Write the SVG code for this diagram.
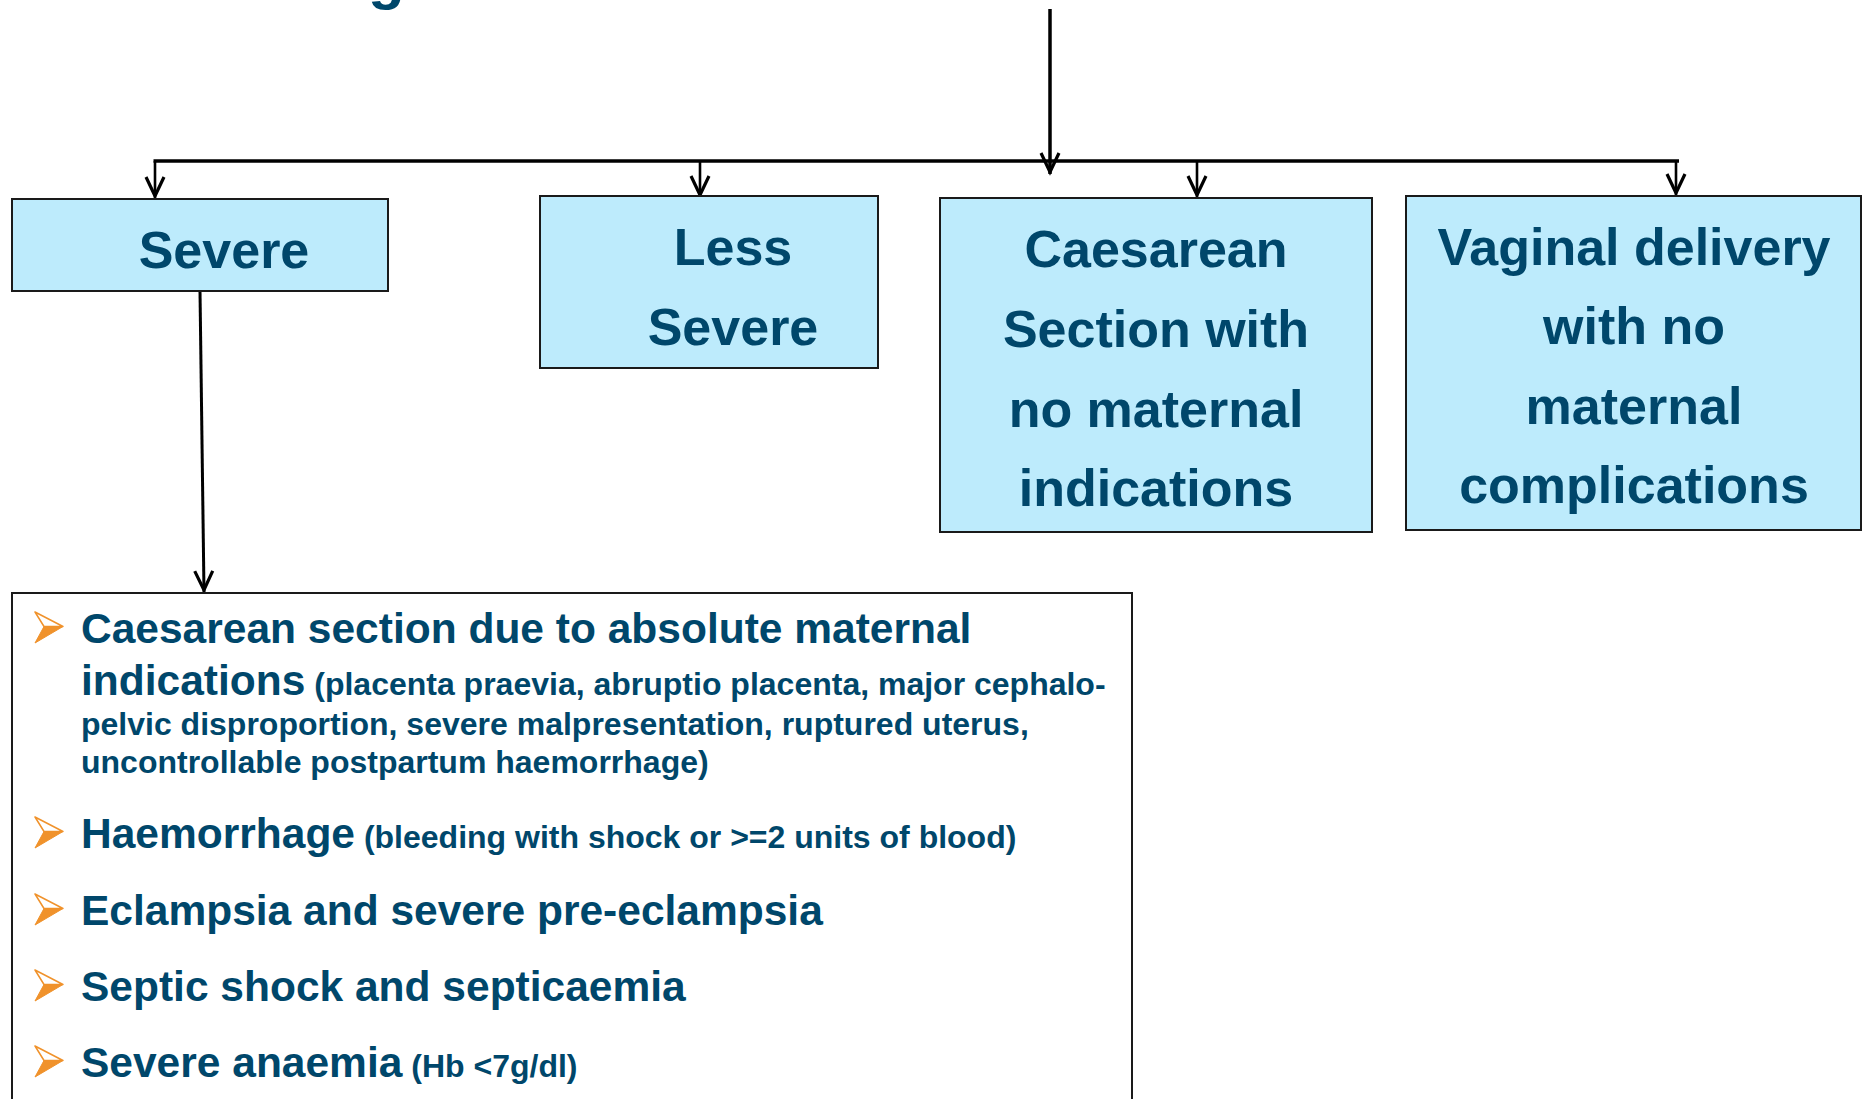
<svg xmlns="http://www.w3.org/2000/svg" width="1866" height="1099" viewBox="0 0 1866 1099">
<style>
.box{fill:#BDEBFC;stroke:#1a1a1a;stroke-width:2}
.frame{fill:#fff;stroke:#1a1a1a;stroke-width:2}
.t{font-family:"Liberation Sans",Arial,sans-serif;font-weight:bold;fill:#00476B}
.bt{font-size:52px;text-anchor:middle}
.big{font-size:42.5px}
.sm{font-size:32px}
.ln{stroke:#000;fill:none}
.bl-up{fill:#fff;stroke:#F0922B;stroke-width:1.5;stroke-linejoin:round}
.bl-dn{fill:#F0922B;stroke:#F0922B;stroke-width:1;stroke-linejoin:round}
</style>
<defs>
<marker id="arr" viewBox="-24 -12 26 24" markerWidth="26" markerHeight="24" refX="0" refY="0" orient="auto" markerUnits="userSpaceOnUse">
<path d="M-21,-9 L-2,0 L-21,9" fill="none" stroke="#000" stroke-width="3.2"/>
</marker>
<g id="bullet">
<polygon class="bl-up" points="0,0 28,14.5 9,14.5"/>
<polygon class="bl-dn" points="9,14.5 28,14.5 0,31"/>
</g>
</defs>

<text class="t" x="368" y="-2" font-size="60">g</text>

<g id="connectors">
<line class="ln" x1="1050" y1="9" x2="1050" y2="174" stroke-width="3.5" marker-end="url(#arr)"/>
<line class="ln" x1="153.5" y1="161" x2="1679" y2="161" stroke-width="3.5"/>
<line class="ln" x1="155" y1="161" x2="155" y2="198" stroke-width="2.6" marker-end="url(#arr)"/>
<line class="ln" x1="700" y1="161" x2="700" y2="197" stroke-width="2.6" marker-end="url(#arr)"/>
<line class="ln" x1="1197" y1="161" x2="1197" y2="197" stroke-width="2.6" marker-end="url(#arr)"/>
<line class="ln" x1="1676" y1="161" x2="1676" y2="195" stroke-width="2.6" marker-end="url(#arr)"/>
<line class="ln" x1="200" y1="291" x2="204" y2="592" stroke-width="3" marker-end="url(#arr)"/>
</g>

<g id="node-severe">
<rect class="box" x="12" y="199" width="376" height="92"/>
<text class="t bt" x="224" y="268">Severe</text>
</g>

<g id="node-less-severe">
<rect class="box" x="540" y="196" width="338" height="172"/>
<text class="t bt" x="733" y="265">Less</text>
<text class="t bt" x="733" y="345">Severe</text>
</g>

<g id="node-caesarean">
<rect class="box" x="940" y="198" width="432" height="334"/>
<text class="t bt" x="1156" y="267">Caesarean</text>
<text class="t bt" x="1156" y="347">Section with</text>
<text class="t bt" x="1156" y="427">no maternal</text>
<text class="t bt" x="1156" y="506">indications</text>
</g>

<g id="node-vaginal">
<rect class="box" x="1406" y="196" width="455" height="334"/>
<text class="t bt" x="1634" y="265">Vaginal delivery</text>
<text class="t bt" x="1634" y="344">with no</text>
<text class="t bt" x="1634" y="424">maternal</text>
<text class="t bt" x="1634" y="503">complications</text>
</g>

<g id="node-severe-list">
<rect class="frame" x="12" y="593" width="1120" height="520"/>
<use href="#bullet" x="35" y="612"/>
<text class="t big" x="81" y="643">Caesarean section due to absolute maternal</text>
<text class="t big" x="81" y="695">indications<tspan class="sm"> (placenta praevia, abruptio placenta, major cephalo-</tspan></text>
<text class="t sm" x="81" y="735">pelvic disproportion, severe malpresentation, ruptured uterus,</text>
<text class="t sm" x="81" y="773">uncontrollable postpartum haemorrhage)</text>
<use href="#bullet" x="35" y="817"/>
<text class="t big" x="81" y="848">Haemorrhage<tspan class="sm"> (bleeding with shock or &gt;=2 units of blood)</tspan></text>
<use href="#bullet" x="35" y="894"/>
<text class="t big" x="81" y="925">Eclampsia and severe pre-eclampsia</text>
<use href="#bullet" x="35" y="970"/>
<text class="t big" x="81" y="1001">Septic shock and septicaemia</text>
<use href="#bullet" x="35" y="1046"/>
<text class="t big" x="81" y="1077">Severe anaemia<tspan class="sm"> (Hb &lt;7g/dl)</tspan></text>
</g>
</svg>
